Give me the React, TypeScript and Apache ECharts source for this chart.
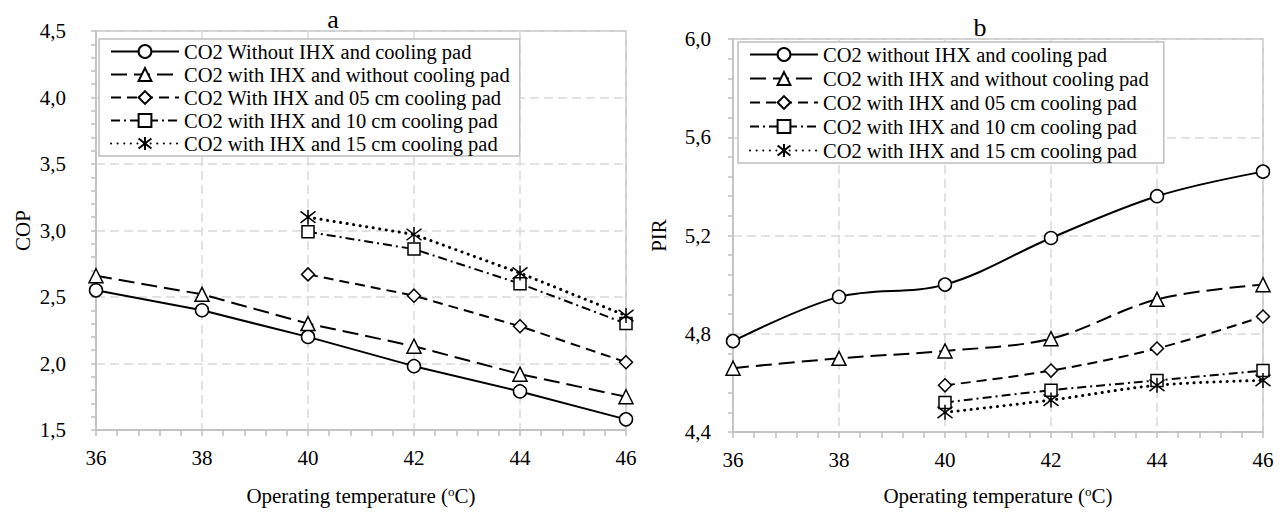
import React, { useEffect, useRef } from 'react';
import * as echarts from 'echarts';

// ---- data ----
const temps = [36, 38, 40, 42, 44, 46];
const tempsPad = [40, 42, 44, 46];

const copNoIhx = [2.55, 2.40, 2.20, 1.98, 1.79, 1.58];
const copIhx = [2.66, 2.52, 2.30, 2.13, 1.92, 1.75];
const copPad05 = [2.67, 2.51, 2.28, 2.01];
const copPad10 = [2.99, 2.86, 2.60, 2.30];
const copPad15 = [3.10, 2.97, 2.68, 2.36];

const pirNoIhx = [4.77, 4.95, 5.00, 5.19, 5.36, 5.46];
const pirIhx = [4.66, 4.70, 4.73, 4.78, 4.94, 5.00];
const pirPad05 = [4.59, 4.65, 4.74, 4.87];
const pirPad10 = [4.52, 4.57, 4.61, 4.65];
const pirPad15 = [4.48, 4.53, 4.59, 4.61];

const namesA = [
  'CO2 Without IHX and cooling pad',
  'CO2 with IHX and without cooling pad',
  'CO2 With IHX and 05 cm cooling pad',
  'CO2 with IHX and 10 cm cooling pad',
  'CO2 with IHX and 15 cm cooling pad',
];
const namesB = [
  'CO2 without IHX and cooling pad',
  'CO2 with IHX and without cooling pad ',
  'CO2 with IHX and 05 cm cooling pad ',
  'CO2 with IHX and 10 cm cooling pad ',
  'CO2 with IHX and 15 cm cooling pad ',
];
const titles = ['a', 'b'];
const yNames = ['COP', 'PIR'];
const xName = 'Operating temperature ({sup|o}C)';

// ---- styling ----
const FONT = '"Liberation Serif", "Times New Roman", serif';
const AXIS = '#bfbfbf';
const GRIDC = '#d9d9d9';
const ASTERISK = 'path://M0,0L10,10M10,0L0,10M5,-1.5L5,11.5';

const marks = [
  { symbol: 'circle', size: 13, dash: 'solid' as any, width: 2 },
  { symbol: 'triangle', size: 14, dash: [16, 7], width: 2 },
  { symbol: 'diamond', size: 13, dash: [10, 6], width: 2 },
  { symbol: 'rect', size: 12, dash: [9, 4, 2, 4], width: 2 },
  { symbol: ASTERISK, size: 15, dash: [0.1, 6.5], width: 3 },
];

const pairs = (xs: number[], ys: number[]) => xs.map((x, i) => [x, ys[i]]);
const fmt = (v: number) => v.toFixed(1).replace('.', ',');

function mkSeries(name: string, xs: number[], ys: number[], k: number, idx: number, smooth: number | boolean) {
  const m = marks[k];
  return {
    type: 'line',
    name,
    xAxisIndex: idx,
    yAxisIndex: idx,
    data: pairs(xs, ys),
    symbol: m.symbol,
    symbolSize: m.size,
    showAllSymbol: true,
    smooth,
    silent: true,
    lineStyle: { color: '#000', width: m.width, type: m.dash, cap: k === 4 ? 'round' : 'butt' },
    itemStyle: { color: k === 4 ? '#000' : '#fff', borderColor: '#000', borderWidth: 1.5 },
    emphasis: { disabled: true },
  };
}

function xAxis(idx: number, nameGap: number) {
  return {
    type: 'value',
    gridIndex: idx,
    min: 36,
    max: 46,
    interval: 2,
    axisLine: { show: true, onZero: false, lineStyle: { color: AXIS, width: 1.5 } },
    axisTick: { show: true, length: 6, lineStyle: { color: AXIS, width: 1.5 } },
    minorTick: { show: true, splitNumber: 5, length: 6, lineStyle: { color: AXIS, width: 1.5 } },
    axisLabel: { color: '#000', fontSize: 21, fontFamily: FONT, margin: 17 },
    splitLine: { show: true, lineStyle: { color: GRIDC, width: 1.5, type: [9, 5] } },
    name: xName,
    nameLocation: 'middle',
    nameGap,
    nameTextStyle: {
      color: '#000',
      fontSize: 21,
      fontFamily: FONT,
      lineHeight: 22,
      rich: { sup: { fontSize: 13, lineHeight: 13, verticalAlign: 'top', fontFamily: FONT, color: '#000' } },
    },
  };
}

function yAxis(idx: number, min: number, max: number, interval: number, name: string, margin: number, nameGap: number) {
  return {
    type: 'value',
    gridIndex: idx,
    min,
    max,
    interval,
    axisLine: { show: true, onZero: false, lineStyle: { color: AXIS, width: 1.5 } },
    axisTick: { show: true, length: 5, lineStyle: { color: AXIS, width: 1.5 } },
    minorTick: { show: true, splitNumber: 5, length: 5, lineStyle: { color: AXIS, width: 1.5 } },
    axisLabel: { color: '#000', fontSize: 21, fontFamily: FONT, margin, formatter: fmt },
    splitLine: { show: true, lineStyle: { color: GRIDC, width: 1.5, type: [9, 5] } },
    name,
    nameLocation: 'middle',
    nameGap,
    nameTextStyle: { color: '#000', fontSize: 21, fontFamily: FONT },
  };
}

function legend(left: number, top: number, data: string[], gap: number) {
  return {
    orient: 'vertical',
    left,
    top,
    itemWidth: 68,
    itemHeight: 16,
    itemGap: gap,
    padding: [2, 10, 2, 11],
    backgroundColor: '#fff',
    borderColor: AXIS,
    borderWidth: 1.5,
    selectedMode: false,
    textStyle: { fontFamily: FONT, fontSize: 20.5, color: '#000', lineHeight: 21 },
    data,
  };
}

export default function App() {
  const ref = useRef<HTMLDivElement>(null);
  useEffect(() => {
    if (!ref.current) return;
    const chart = echarts.init(ref.current, undefined, { renderer: 'svg' });
    const option: any = {
      animation: false,
      backgroundColor: '#fff',
      grid: [
        { left: 96, top: 31, width: 530, height: 399, show: true, borderColor: AXIS, borderWidth: 1.5, backgroundColor: 'transparent' },
        { left: 733, top: 39, width: 530, height: 396, show: true, borderColor: AXIS, borderWidth: 1.5, backgroundColor: 'transparent' },
      ],
      xAxis: [xAxis(0, 55), xAxis(1, 53)],
      yAxis: [
        yAxis(0, 1.5, 4.5, 0.5, yNames[0], 30, 63),
        yAxis(1, 4.4, 6.0, 0.4, yNames[1], 22, 64),
      ],
      legend: [legend(99, 39, namesA, 2), legend(738, 42, namesB, 3)],
      graphic: [
        { type: 'text', x: 333, y: 19, style: { text: titles[0], fontSize: 26, fontFamily: FONT, fill: '#000', align: 'center', verticalAlign: 'middle', textAlign: 'center', textVerticalAlign: 'middle' } },
        { type: 'text', x: 980, y: 27, style: { text: titles[1], fontSize: 26, fontFamily: FONT, fill: '#000', align: 'center', verticalAlign: 'middle', textAlign: 'center', textVerticalAlign: 'middle' } },
      ],
      series: [
        mkSeries(namesA[0], temps, copNoIhx, 0, 0, false),
        mkSeries(namesA[1], temps, copIhx, 1, 0, false),
        mkSeries(namesA[2], tempsPad, copPad05, 2, 0, false),
        mkSeries(namesA[3], tempsPad, copPad10, 3, 0, false),
        mkSeries(namesA[4], tempsPad, copPad15, 4, 0, false),
        mkSeries(namesB[0], temps, pirNoIhx, 0, 1, 0.35),
        mkSeries(namesB[1], temps, pirIhx, 1, 1, 0.35),
        mkSeries(namesB[2], tempsPad, pirPad05, 2, 1, 0.35),
        mkSeries(namesB[3], tempsPad, pirPad10, 3, 1, 0.35),
        mkSeries(namesB[4], tempsPad, pirPad15, 4, 1, 0.35),
      ],
    };
    chart.setOption(option);
    return () => chart.dispose();
  }, []);
  return <div ref={ref} style={{ position: 'absolute', left: 0, top: 0, width: 1288, height: 512 }} />;
}
